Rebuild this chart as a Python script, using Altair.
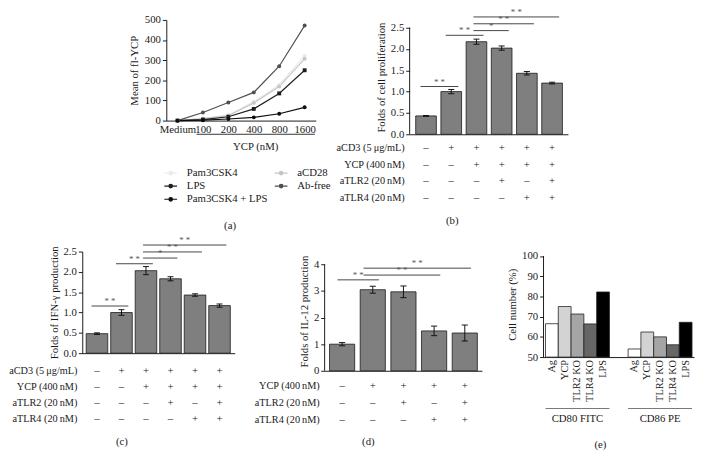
import json
import altair as alt
import pandas as pd

FONT = "Liberation Serif"
INK = "#1a1a1a"

# ---------------- (a) data ----------------
a_doses = ["Medium", "100", "200", "400", "800", "1600"]
a_series = ["Pam3CSK4", "aCD28", "LPS", "Ab-free", "Pam3CSK4 + LPS"]
a_pam3csk4 = [0, 12, 28, 95, 178, 322]
a_acd28 = [0, 10, 24, 88, 169, 307]
a_lps = [0, 5, 19, 58, 135, 250]
a_abfree = [0, 40, 90, 140, 270, 472]
a_pam_lps = [0, 2, 8, 16, 34, 66]
a_colors = ["#ebebeb", "#c6c6c6", "#1e1e1e", "#505050", "#0d0d0d"]
a_shapes = ["circle", "circle", "square", "circle", "circle"]

# ---------------- (b) data ----------------
b_vals = [0.43, 1.00, 2.17, 2.02, 1.43, 1.20]
b_errs = [0.01, 0.05, 0.06, 0.05, 0.04, 0.02]
b_rows = ["aCD3 (5\u2009\u03bcg/mL)", "YCP (400\u2009nM)", "aTLR2 (20\u2009nM)", "aTLR4 (20\u2009nM)"]
b_acd3 = ["–", "+", "+", "+", "+", "+"]
b_ycp = ["–", "–", "+", "+", "+", "+"]
b_tlr2 = ["–", "–", "–", "+", "–", "+"]
b_tlr4 = ["–", "–", "–", "–", "+", "+"]
b_sig_from = [1, 2, 3, 3, 3]
b_sig_to = [2, 3, 4, 5, 6]
b_sig_h = [1.12, 2.32, 2.43, 2.59, 2.75]
b_sig_t = ["* *", "* *", "*", "* *", "* *"]

# ---------------- (c) data ----------------
c_vals = [0.48, 1.00, 2.03, 1.83, 1.43, 1.17]
c_errs = [0.02, 0.07, 0.10, 0.05, 0.03, 0.04]
c_sig_from = [1, 2, 3, 3, 3]
c_sig_to = [2, 3, 4, 5, 6]
c_sig_h = [1.16, 2.20, 2.34, 2.49, 2.66]
c_sig_t = ["* *", "* *", "*", "* *", "* *"]

# ---------------- (d) data ----------------
d_vals = [1.00, 3.05, 2.97, 1.50, 1.42]
d_errs = [0.06, 0.13, 0.22, 0.18, 0.30]
d_rows = ["YCP (400\u2009nM)", "aTLR2 (20\u2009nM)", "aTLR4 (20\u2009nM)"]
d_ycp = ["–", "+", "+", "+", "+"]
d_tlr2 = ["–", "–", "+", "–", "+"]
d_tlr4 = ["–", "–", "–", "+", "+"]
d_sig_from = [1, 2, 2]
d_sig_to = [2, 4, 5]
d_sig_h = [3.42, 3.60, 3.86]
d_sig_t = ["* *", "* *", "* *"]

# ---------------- (e) data ----------------
e_groups = ["CD80 FITC", "CD86 PE"]
e_labels = ["Ag", "YCP", "TLR2 KO", "TLR4 KO", "LPS"]
e_cd80 = [66.5, 75.0, 71.3, 66.4, 82.2]
e_cd86 = [54.0, 62.4, 60.0, 56.1, 67.2]
e_colors = ["#ffffff", "#d3d3d3", "#a5a5a5", "#666666", "#000000"]


def spacer(w, h=1):
    return alt.Chart(pd.DataFrame({"z": [0]})).mark_rect(opacity=0).encode(
        x=alt.value(0), x2=alt.value(w), y=alt.value(0), y2=alt.value(h)
    ).properties(width=w, height=h)


# ---------------- panel (a) ----------------
rows = []
for s, vals, sh in zip(a_series, [a_pam3csk4, a_acd28, a_lps, a_abfree, a_pam_lps], a_shapes):
    for k, (d, v) in enumerate(zip(a_doses, vals)):
        rows.append({"idx": k, "dose": d, "series": s, "mean": v, "shape": sh})
df_a = pd.DataFrame(rows)

A_W, A_H = 153, 103
xa_scale = alt.Scale(domain=[-0.44, len(a_doses) - 1 + 0.44], nice=False, zero=False)
ya_scale = alt.Scale(domain=[0, 500], nice=False)
xa_axis = alt.Axis(values=list(range(len(a_doses))),
                   labelExpr=f"{json.dumps(a_doses)}[datum.value]",
                   ticks=False, tickSize=0, labelPadding=3, grid=False, labelFlush=False,
                   labelOverlap=False, title="YCP (nM)", titleX=91, titleY=21,
                   titleBaseline="top")
ya_axis = alt.Axis(values=[0, 100, 200, 300, 400, 500], grid=False, tickSize=4,
                   labelPadding=2, title="Mean of fl-YCP", titlePadding=5, labelOverlap=False)
sym_path = "M-1,0H1M0.28,0A0.28,0.28,0,1,1,-0.28,0A0.28,0.28,0,1,1,0.28,0Z"
leg = alt.Legend(title=None, orient="none", legendX=-3, legendY=149, columns=2, direction="horizontal",
                 symbolType=sym_path, symbolSize=169, symbolStrokeWidth=1.2,
                 labelOffset=9, columnPadding=4, rowPadding=0.5, labelFontSize=11,
                 labelColor=INK, labelFont=FONT)
col_scale = alt.Scale(domain=a_series, range=a_colors)
base_a = alt.Chart(df_a)
a_lines = base_a.mark_line(strokeWidth=1.2).encode(
    x=alt.X("idx:Q", scale=xa_scale, axis=xa_axis),
    y=alt.Y("mean:Q", scale=ya_scale, axis=ya_axis),
    stroke=alt.Stroke("series:N", scale=col_scale, legend=leg, sort=a_series),
    detail="series:N",
)
a_pts = base_a.mark_point(filled=True, size=16, opacity=1).encode(
    x=alt.X("idx:Q", scale=xa_scale, axis=xa_axis),
    y=alt.Y("mean:Q", scale=ya_scale, axis=ya_axis),
    fill=alt.Fill("series:N", scale=col_scale, legend=leg, sort=a_series),
    shape=alt.Shape("shape:N", scale=alt.Scale(domain=["circle", "square"], range=["circle", "square"]), legend=None),
)
df_under = pd.DataFrame({"s": [1 - 0.25], "e": [len(a_doses) - 1 + 0.4]})
a_under = alt.Chart(df_under).mark_rule(color="#333", strokeWidth=1).encode(
    x=alt.X("s:Q", scale=xa_scale, axis=xa_axis), x2="e:Q", y=alt.value(A_H + 14)
)
panel_a = alt.layer(a_lines, a_pts, a_under).properties(
    width=A_W, height=A_H,
    title=alt.TitleParams("(a)", orient="bottom", frame="bounds", offset=16, fontWeight="normal"),
)


# ---------------- generic bar panel ----------------
def bar_panel(vals, errs, columns, row_names, sig_from, sig_to, sig_h, sig_t, *, width, height,
              ydom, yvals, yfmt, ytitle, xdom, half, cap, s_off, e_off, first, step,
              axis_top=None, title="", title_offset=10):
    n = len(vals)
    df = pd.DataFrame({"i": list(range(1, n + 1)), "v": vals, "e": errs})
    df["x0"] = df["i"] - half
    df["x1"] = df["i"] + half
    df["lo"] = df["v"] - df["e"]
    df["hi"] = df["v"] + df["e"]
    df["c0"] = df["i"] - cap
    df["c1"] = df["i"] + cap
    ds = pd.DataFrame({"a": sig_from, "b": sig_to, "h": sig_h, "t": sig_t})
    ds["s0"] = ds["a"] + [s_off(a) for a in ds["a"]]
    ds["s1"] = ds["b"] + e_off
    ds["m"] = (ds["s0"] + ds["s1"]) / 2
    tab = []
    for rname, col in zip(row_names, columns):
        for k, sym in enumerate(col):
            tab.append({"i": k + 1, "row": rname, "sym": sym})
    df_tab = pd.DataFrame(tab)
    df_names = pd.DataFrame({"row": row_names})

    xs = alt.Scale(domain=xdom, nice=False, zero=False)
    ys = alt.Scale(domain=ydom, nice=False, zero=False)
    xaxis = alt.Axis(labels=False, ticks=False, tickSize=0, grid=False, title=None)
    yaxis = alt.Axis(values=yvals, format=yfmt, grid=False, tickSize=4, labelPadding=2,
                     title=ytitle, titlePadding=4, domain=axis_top is None, labelOverlap=False)

    def X(f):
        return alt.X(f, scale=xs, axis=xaxis)

    def Y(f):
        return alt.Y(f, scale=ys, axis=yaxis)

    base = alt.Chart(df)
    bars = base.mark_bar(color="#7f7f7f", stroke=INK, strokeWidth=0.8).encode(
        x=X("x0:Q"), x2="x1:Q", y=Y("v:Q"), y2=alt.datum(0),
    )
    err = base.mark_rule(color="#111", strokeWidth=1).encode(x=X("i:Q"), y=Y("lo:Q"), y2="hi:Q")
    cap_hi = base.mark_rule(color="#111", strokeWidth=1).encode(x=X("c0:Q"), x2="c1:Q", y=Y("hi:Q"))
    cap_lo = base.mark_rule(color="#111", strokeWidth=1).encode(x=X("c0:Q"), x2="c1:Q", y=Y("lo:Q"))
    sbase = alt.Chart(ds)
    slines = sbase.mark_rule(color="#444", strokeWidth=1).encode(x=X("s0:Q"), x2="s1:Q", y=Y("h:Q"))
    stext = sbase.mark_text(fontSize=9, color="#555", baseline="bottom", dy=0, font=FONT).encode(
        x=X("m:Q"), y=Y("h:Q"), text="t:N")
    layers = [bars, err, cap_hi, cap_lo, slines, stext]
    if axis_top is not None:
        layers.append(alt.Chart(pd.DataFrame({"z": [0]})).mark_rule(color=INK, strokeWidth=1).encode(
            x=alt.value(0), y=alt.datum(ydom[0], scale=ys, axis=yaxis), y2=alt.datum(axis_top)))
    main = alt.layer(*layers)

    ty = alt.Scale(type="point", domain=row_names, padding=0,
                   range=[height + first, height + first + step * (len(row_names) - 1)])
    syms = alt.Chart(df_tab).mark_text(fontSize=11, color=INK, baseline="middle", font=FONT).encode(
        x=X("i:Q"), y=alt.Y("row:N", scale=ty, axis=None, sort=row_names), text="sym:N")
    names = alt.Chart(df_names).mark_text(fontSize=10.5, color=INK, baseline="middle", align="right",
                                          font=FONT).encode(
        x=alt.value(-5), y=alt.Y("row:N", scale=ty, axis=None, sort=row_names), text="row:N")
    table = alt.layer(syms, names)

    return alt.layer(main, table).resolve_scale(y="independent").properties(
        width=width, height=height,
        title=alt.TitleParams(title, orient="bottom", frame="bounds", offset=title_offset, fontWeight="normal"),
    )


panel_b = bar_panel(
    b_vals, b_errs, [b_acd3, b_ycp, b_tlr2, b_tlr4], b_rows,
    b_sig_from, b_sig_to, b_sig_h, b_sig_t,
    width=162, height=117, ydom=[0, 2.68], yvals=[0, 0.5, 1.0, 1.5, 2.0, 2.5], yfmt=".1f",
    ytitle="Folds of cell proliferation", xdom=[0.35, 6.63], half=0.41, cap=0.12,
    s_off=lambda a: -0.12 if a == 3 else -0.22, e_off=0.28, first=14, step=17,
    axis_top=2.5, title="(b)", title_offset=12,
)

panel_c = bar_panel(
    c_vals, c_errs, [b_acd3, b_ycp, b_tlr2, b_tlr4], b_rows,
    c_sig_from, c_sig_to, c_sig_h, c_sig_t,
    width=156, height=104, ydom=[0, 2.5], yvals=[0, 0.5, 1.0, 1.5, 2.0, 2.5], yfmt=".1f",
    ytitle="Folds of IFN-\u03b3 production", xdom=[0.4, 6.62], half=0.44, cap=0.12,
    s_off=lambda a: -0.12 if a == 3 else -0.22, e_off=0.28, first=18, step=16.5,
    axis_top=None, title="(c)", title_offset=12,
)

panel_d = bar_panel(
    d_vals, d_errs, [d_ycp, d_tlr2, d_tlr4], d_rows,
    d_sig_from, d_sig_to, d_sig_h, d_sig_t,
    width=161, height=122, ydom=[0, 4.485], yvals=[0, 1, 2, 3, 4], yfmt="d",
    ytitle="Folds of IL-12 production", xdom=[0.43, 5.56], half=0.41, cap=0.1,
    s_off=lambda a: -0.15 if a == 1 else -0.3, e_off=0.2, first=16, step=17,
    axis_top=4, title="(d)", title_offset=11,
)

# ---------------- panel (e) ----------------
e_rows = []
for g, vals in zip(e_groups, [e_cd80, e_cd86]):
    for lab, v in zip(e_labels, vals):
        e_rows.append({"group": g, "label": lab, "pct": v})
df_e = pd.DataFrame(e_rows)
E_W, E_H = 154, 108
xe_scale = alt.Scale(domain=e_groups, paddingInner=0.226, paddingOuter=0.024)
xo_scale = alt.Scale(domain=e_labels, paddingInner=0, paddingOuter=0)
ye_scale = alt.Scale(domain=[50, 102.2], nice=False, zero=False)
xe_axis = alt.Axis(title=None, labelAngle=0, ticks=False, tickSize=0, labelPadding=57,
                   labelBaseline="top", grid=False)
ye_axis = alt.Axis(values=[50, 60, 70, 80, 90, 100], grid=False, tickSize=4, labelPadding=2,
                   title="Cell number (%)", titlePadding=4, domain=False, labelOverlap=False)
XE = alt.X("group:N", scale=xe_scale, sort=e_groups, axis=xe_axis)
XO = alt.XOffset("label:N", scale=xo_scale, sort=e_labels)
e_bars = alt.Chart(df_e).mark_bar(stroke="#222", strokeWidth=0.8).encode(
    x=XE, xOffset=XO,
    y=alt.Y("pct:Q", scale=ye_scale, axis=ye_axis),
    y2=alt.datum(50),
    fill=alt.Fill("label:N", scale=alt.Scale(domain=e_labels, range=e_colors), legend=None),
)
e_text = alt.Chart(df_e).mark_text(angle=270, align="right", baseline="middle", fontSize=10.5,
                                   color=INK, font=FONT).encode(
    x=XE, xOffset=XO, y=alt.value(E_H + 3), text="label:N",
)
e_under = alt.Chart(pd.DataFrame({"group": e_groups})).mark_bar(color="#7a7a7a").encode(
    x=XE, y=alt.value(E_H + 52), y2=alt.value(E_H + 53),
)
e_axis = alt.Chart(pd.DataFrame({"z": [0]})).mark_rule(color=INK, strokeWidth=1).encode(
    x=alt.value(0), y=alt.datum(50, scale=ye_scale, axis=ye_axis), y2=alt.datum(100))
panel_e = alt.layer(e_bars, e_text, e_under, e_axis).properties(
    width=E_W, height=E_H,
    title=alt.TitleParams("(e)", orient="bottom", frame="bounds", offset=16, fontWeight="normal"),
)

row1 = alt.hconcat(spacer(46), panel_a, spacer(1), panel_b, spacing=0).resolve_scale(
    fill="independent", stroke="independent", shape="independent")
row2 = alt.hconcat(panel_c, spacer(16), panel_d, spacer(22), panel_e, spacing=0).resolve_scale(
    fill="independent", stroke="independent", shape="independent")

chart = alt.vconcat(row1, row2, spacing=3).resolve_scale(
    fill="independent", stroke="independent", shape="independent"
).properties(padding={"left": 0, "top": -6, "right": 0, "bottom": 0}).configure_view(
    stroke="transparent"
).configure_axis(
    labelFont=FONT, titleFont=FONT, labelFontSize=11, titleFontSize=11,
    labelColor=INK, titleColor=INK, titleFontWeight="normal",
    domainColor=INK, tickColor=INK,
).configure_title(font=FONT, fontSize=11, color=INK).configure_text(font=FONT)

chart.save("out.html", embed_options={"renderer": "svg", "actions": False})
